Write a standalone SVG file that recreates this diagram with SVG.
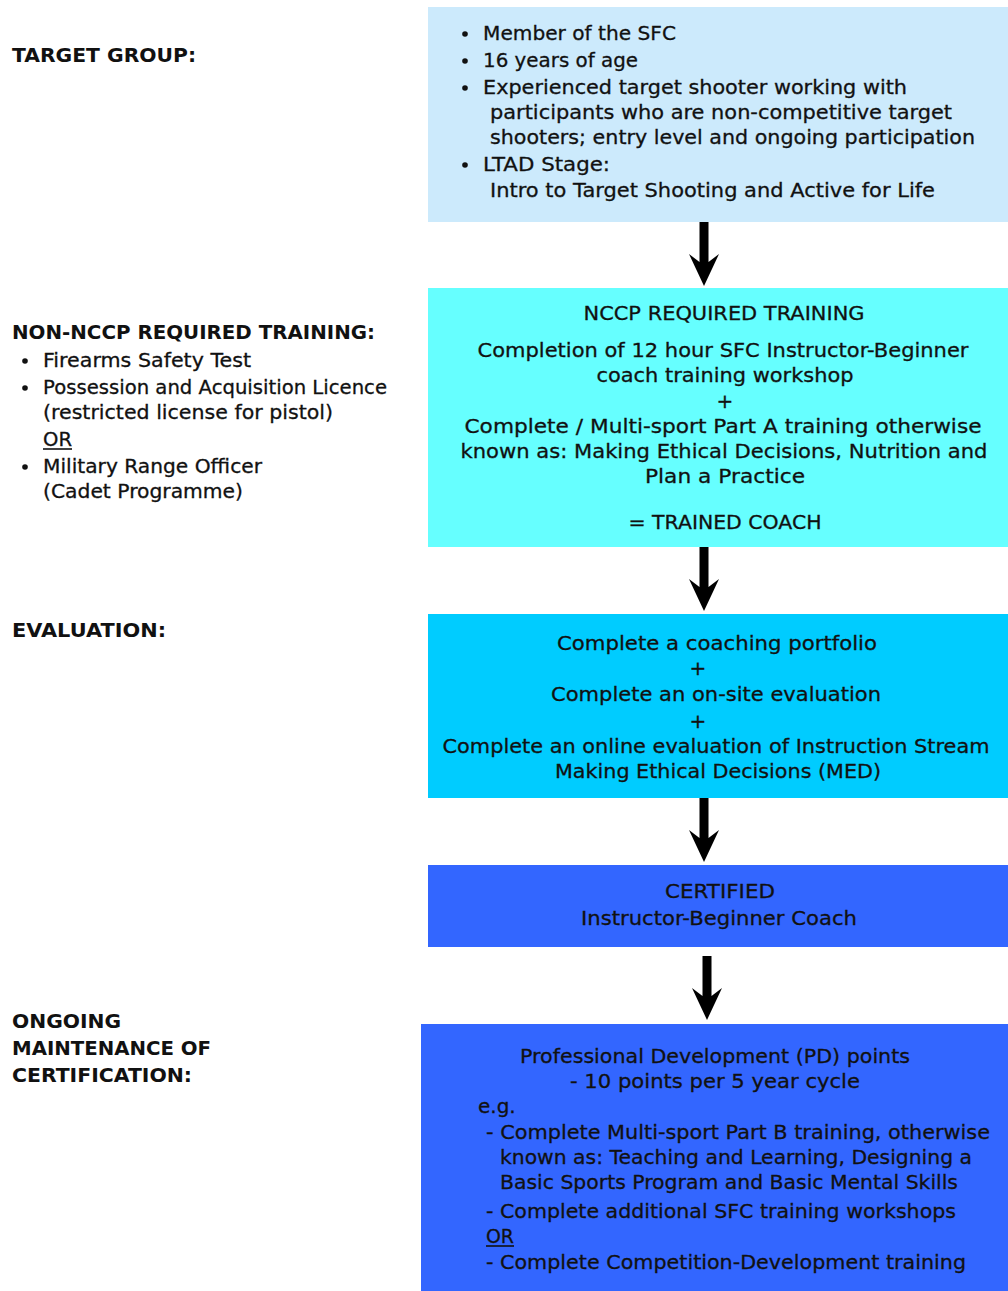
<svg xmlns="http://www.w3.org/2000/svg" width="1008" height="1291" viewBox="0 0 1008 1291">
<style>
text{font-family:"DejaVu Sans","Liberation Sans",sans-serif;font-size:20px;fill:#111;stroke:#111;stroke-width:0.3}
.lbl{font-weight:bold;stroke-width:0}
.c{text-anchor:middle}
.arrow{fill:#000}
.dot{fill:#111}
</style>
<defs>
<path id="arr" d="M-4.5,0 H4.5 V40 L15,32 L0,64 L-15,32 L-4.5,40 Z"/>
</defs>
<rect width="1008" height="1291" fill="#fff"/>

<g id="label-target">
<text class="lbl" x="12" y="62" textLength="184" lengthAdjust="spacingAndGlyphs">TARGET GROUP:</text>
</g>
<g id="label-nonnccp">
<text class="lbl" x="12" y="339" textLength="363" lengthAdjust="spacingAndGlyphs">NON-NCCP REQUIRED TRAINING:</text>
<circle class="dot" cx="25" cy="361" r="2.8"/>
<text x="43" y="367" textLength="208" lengthAdjust="spacingAndGlyphs">Firearms Safety Test</text>
<circle class="dot" cx="25" cy="388" r="2.8"/>
<text x="43" y="394" textLength="344" lengthAdjust="spacingAndGlyphs">Possession and Acquisition Licence</text>
<text x="43" y="419" textLength="290" lengthAdjust="spacingAndGlyphs">(restricted license for pistol)</text>
<text x="43" y="446" textLength="29" lengthAdjust="spacingAndGlyphs">OR</text>
<line x1="43" y1="449" x2="72" y2="449" stroke="#111" stroke-width="1.6"/>
<circle class="dot" cx="25" cy="467" r="2.8"/>
<text x="43" y="473" textLength="219" lengthAdjust="spacingAndGlyphs">Military Range Officer</text>
<text x="43" y="498" textLength="200" lengthAdjust="spacingAndGlyphs">(Cadet Programme)</text>
</g>
<g id="label-evaluation">
<text class="lbl" x="12" y="637" textLength="154" lengthAdjust="spacingAndGlyphs">EVALUATION:</text>
</g>
<g id="label-ongoing">
<text class="lbl" x="12" y="1028" textLength="109" lengthAdjust="spacingAndGlyphs">ONGOING</text>
<text class="lbl" x="12" y="1055" textLength="199" lengthAdjust="spacingAndGlyphs">MAINTENANCE OF</text>
<text class="lbl" x="12" y="1082" textLength="180" lengthAdjust="spacingAndGlyphs">CERTIFICATION:</text>
</g>

<g id="box-target">
<rect x="428" y="7" width="580" height="215" fill="#cceafc"/>
<circle class="dot" cx="465" cy="34" r="2.8"/>
<text x="483" y="40" textLength="193" lengthAdjust="spacingAndGlyphs">Member of the SFC</text>
<circle class="dot" cx="465" cy="61" r="2.8"/>
<text x="483" y="67" textLength="155" lengthAdjust="spacingAndGlyphs">16 years of age</text>
<circle class="dot" cx="465" cy="88" r="2.8"/>
<text x="483" y="94" textLength="424" lengthAdjust="spacingAndGlyphs">Experienced target shooter working with</text>
<text x="490" y="119" textLength="462" lengthAdjust="spacingAndGlyphs">participants who are non-competitive target</text>
<text x="490" y="144" textLength="485" lengthAdjust="spacingAndGlyphs">shooters; entry level and ongoing participation</text>
<circle class="dot" cx="465" cy="165" r="2.8"/>
<text x="483" y="171" textLength="127" lengthAdjust="spacingAndGlyphs">LTAD Stage:</text>
<text x="490" y="197" textLength="445" lengthAdjust="spacingAndGlyphs">Intro to Target Shooting and Active for Life</text>
</g>

<g id="box-nccp">
<rect x="428" y="288" width="580" height="259" fill="#66ffff"/>
<text class="c" x="724" y="320" textLength="281" lengthAdjust="spacingAndGlyphs">NCCP REQUIRED TRAINING</text>
<text class="c" x="723" y="357" textLength="491" lengthAdjust="spacingAndGlyphs">Completion of 12 hour SFC Instructor-Beginner</text>
<text class="c" x="725" y="382" textLength="257" lengthAdjust="spacingAndGlyphs">coach training workshop</text>
<text class="c" x="725" y="408">+</text>
<text class="c" x="723" y="433" textLength="517" lengthAdjust="spacingAndGlyphs">Complete / Multi-sport Part A training otherwise</text>
<text class="c" x="724" y="458" textLength="527" lengthAdjust="spacingAndGlyphs">known as: Making Ethical Decisions, Nutrition and</text>
<text class="c" x="725" y="483" textLength="160" lengthAdjust="spacingAndGlyphs">Plan a Practice</text>
<text class="c" x="725" y="529" textLength="193" lengthAdjust="spacingAndGlyphs">= TRAINED COACH</text>
</g>

<g id="box-evaluation">
<rect x="428" y="614" width="580" height="184" fill="#00ccff"/>
<text class="c" x="717" y="650" textLength="320" lengthAdjust="spacingAndGlyphs">Complete a coaching portfolio</text>
<text class="c" x="698" y="675">+</text>
<text class="c" x="716" y="701" textLength="330" lengthAdjust="spacingAndGlyphs">Complete an on-site evaluation</text>
<text class="c" x="698" y="728">+</text>
<text class="c" x="716" y="753" textLength="547" lengthAdjust="spacingAndGlyphs">Complete an online evaluation of Instruction Stream</text>
<text class="c" x="718" y="778" textLength="326" lengthAdjust="spacingAndGlyphs">Making Ethical Decisions (MED)</text>
</g>

<g id="box-certified">
<rect x="428" y="865" width="580" height="82" fill="#3366ff"/>
<text class="c" x="720" y="898" textLength="110" lengthAdjust="spacingAndGlyphs">CERTIFIED</text>
<text class="c" x="719" y="925" textLength="276" lengthAdjust="spacingAndGlyphs">Instructor-Beginner Coach</text>
</g>

<g id="box-maintenance">
<rect x="421" y="1024" width="587" height="267" fill="#3366ff"/>
<text class="c" x="715" y="1063" textLength="390" lengthAdjust="spacingAndGlyphs">Professional Development (PD) points</text>
<text class="c" x="715" y="1088" textLength="290" lengthAdjust="spacingAndGlyphs">- 10 points per 5 year cycle</text>
<text x="478" y="1113">e.g.</text>
<text x="486" y="1139" textLength="504" lengthAdjust="spacingAndGlyphs">- Complete Multi-sport Part B training, otherwise</text>
<text x="500" y="1164" textLength="472" lengthAdjust="spacingAndGlyphs">known as: Teaching and Learning, Designing a</text>
<text x="500" y="1189" textLength="458" lengthAdjust="spacingAndGlyphs">Basic Sports Program and Basic Mental Skills</text>
<text x="486" y="1218" textLength="470" lengthAdjust="spacingAndGlyphs">- Complete additional SFC training workshops</text>
<text x="486" y="1243" textLength="28" lengthAdjust="spacingAndGlyphs">OR</text>
<line x1="486" y1="1246" x2="514" y2="1246" stroke="#111" stroke-width="1.6"/>
<text x="486" y="1269" textLength="480" lengthAdjust="spacingAndGlyphs">- Complete Competition-Development training</text>
</g>

<g id="connectors" class="arrow">
<use href="#arr" x="704" y="222"/>
<use href="#arr" x="704" y="547"/>
<use href="#arr" x="704" y="798"/>
<use href="#arr" x="707" y="956"/>
</g>
</svg>
